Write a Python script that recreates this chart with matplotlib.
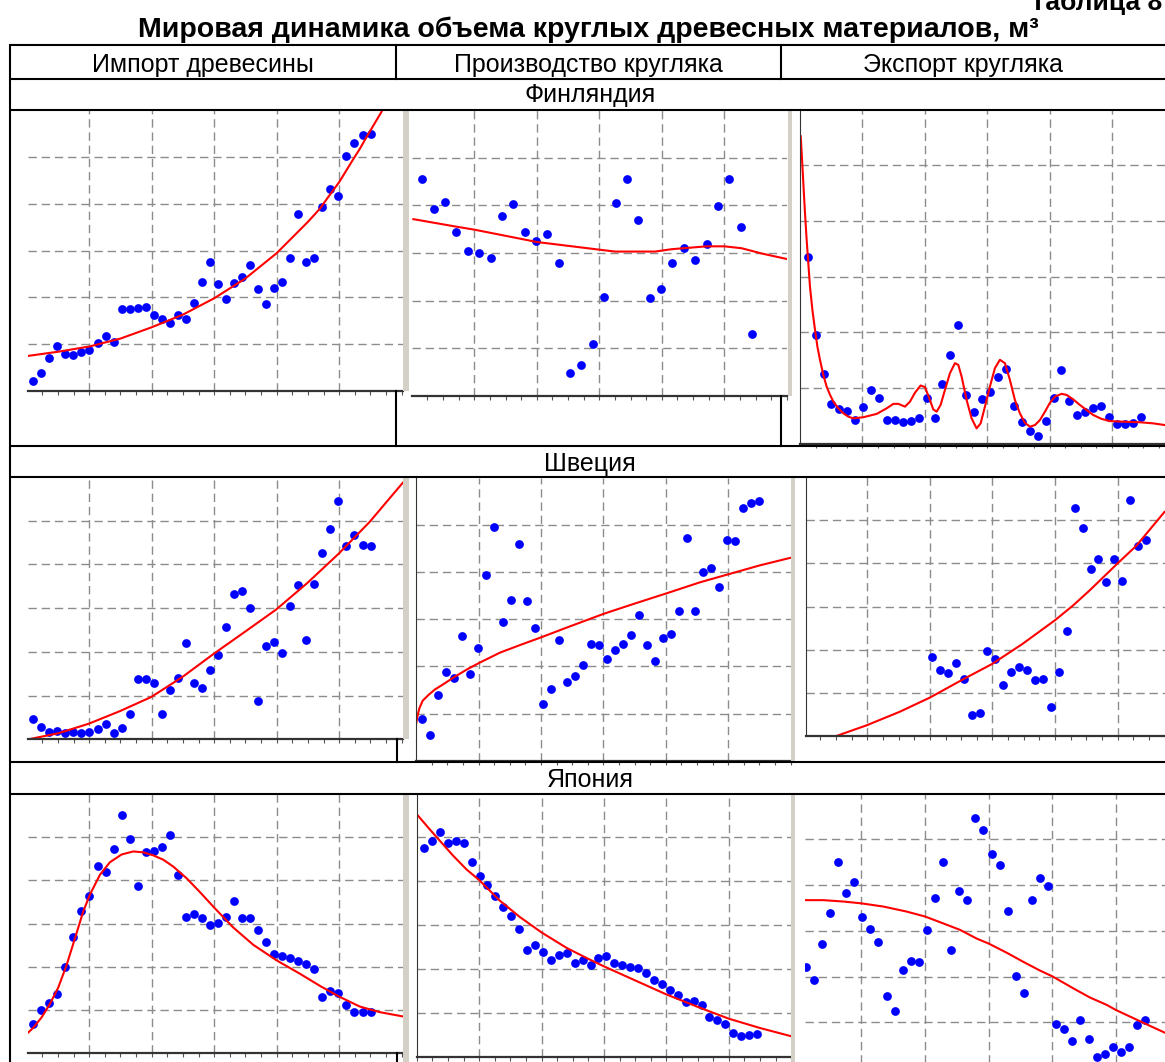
import numpy as np
import matplotlib.pyplot as plt
from matplotlib.patches import Rectangle

plt.rcParams['font.family'] = ['Liberation Sans', 'DejaVu Sans']

# ---- data (values in grid units) ----
years = np.arange(1961, 2004)          # 43 yearly points
years_b = np.arange(1974, 2004)        # 30 points, Finland production
years_f = np.arange(1976, 2004)        # 28 points, Sweden export

fin_import = [0.21, 0.38, 0.70, 0.96, 0.79, 0.77, 0.84, 0.87, 1.02, 1.18,
              1.05, 1.76, 1.76, 1.77, 1.80, 1.62, 1.53, 1.46, 1.62, 1.54,
              1.88, 2.32, 2.76, 2.28, 1.97, 2.30, 2.44, 2.70, 2.17, 1.86,
              2.20, 2.32, 2.84, 3.77, 2.76, 2.84, 3.92, 4.31, 4.16, 5.01,
              5.29, 5.47, 5.49]
fin_import_tx = [1960.38, 1964.15, 1967.97, 1971.87, 1975.73, 1979.63, 1983.53,
                 1987.39, 1991.29, 1995.19, 1996.68, 1997.72, 1999.09, 2000.63,
                 2001.66, 2002.49, 2004.36, 2004.98]
fin_import_ty = [0.75, 0.84, 0.95, 1.12, 1.36, 1.63, 1.98, 2.40, 2.94, 3.61,
                 3.89, 4.14, 4.46, 4.89, 5.17, 5.42, 5.96, 6.20]

fin_prod = [4.55, 3.93, 4.07, 3.44, 3.04, 2.99, 2.90, 3.77, 4.03, 3.45,
            3.26, 3.40, 2.80, 0.48, 0.64, 1.09, 2.08, 4.05, 4.55, 3.70,
            2.05, 2.24, 2.80, 3.11, 2.85, 3.18, 3.98, 4.55, 3.54, 1.30]
fin_prod_tx = [1973.21, 1977.05, 1978.57, 1984.09, 1989.57, 1990.95, 1994.47,
               1995.94, 1999.01, 2000.57, 2002.09, 2003.85, 2006.14]
fin_prod_ty = [3.71, 3.55, 3.49, 3.23, 3.07, 3.03, 3.03, 3.08, 3.14, 3.14,
               3.10, 2.99, 2.87]

fin_export = [3.36, 1.96, 1.25, 0.71, 0.62, 0.60, 0.43, 0.67, 0.97, 0.83,
              0.43, 0.43, 0.40, 0.42, 0.47, 0.83, 0.46, 1.07, 1.60, 2.14,
              0.88, 0.57, 0.81, 0.93, 1.21, 1.34, 0.69, 0.40, 0.23, 0.14,
              0.41, 0.83, 1.33, 0.77, 0.52, 0.57, 0.64, 0.69, 0.48, 0.36,
              0.36, 0.38, 0.48]
fin_export_tx = [1960.12, 1960.29, 1960.45, 1960.66, 1960.87, 1961.08, 1961.29,
                 1961.59, 1961.92, 1962.22, 1962.55, 1962.97, 1963.39, 1963.82,
                 1964.24, 1964.87, 1965.50, 1966.13, 1966.76, 1968.02, 1969.70,
                 1970.96, 1971.80, 1972.43, 1973.27, 1973.90, 1974.53, 1975.24,
                 1975.79, 1976.34, 1976.84, 1977.26, 1977.76, 1978.31, 1978.94,
                 1979.57, 1979.99, 1980.41, 1981.04, 1981.67, 1982.30, 1982.81,
                 1983.35, 1983.98, 1984.61, 1985.24, 1985.87, 1986.50, 1987.13,
                 1987.76, 1988.39, 1989.03, 1989.66, 1990.29, 1990.92, 1991.55,
                 1992.18, 1993.02, 1993.65, 1994.49, 1995.33, 1996.17, 1997.01,
                 1998.06, 1999.11, 2000.79, 2002.89, 2004.57, 2006.04]
fin_export_ty = [5.52, 5.10, 4.68, 4.14, 3.66, 3.24, 2.82, 2.41, 2.05, 1.75,
                 1.51, 1.24, 1.03, 0.88, 0.76, 0.64, 0.55, 0.49, 0.46, 0.48,
                 0.54, 0.64, 0.72, 0.72, 0.67, 0.76, 0.92, 1.05, 1.02, 0.82,
                 0.62, 0.58, 0.70, 0.97, 1.27, 1.45, 1.42, 1.21, 0.79, 0.46,
                 0.28, 0.37, 0.67, 1.03, 1.36, 1.51, 1.45, 1.15, 0.79, 0.55,
                 0.38, 0.31, 0.34, 0.43, 0.58, 0.74, 0.85, 0.90, 0.88, 0.80,
                 0.70, 0.61, 0.52, 0.45, 0.41, 0.40, 0.39, 0.37, 0.34]

swe_import = [0.47, 0.28, 0.16, 0.19, 0.14, 0.18, 0.14, 0.18, 0.24, 0.35,
              0.14, 0.27, 0.57, 1.37, 1.37, 1.29, 0.59, 1.14, 1.41, 2.21,
              1.30, 1.17, 1.59, 1.94, 2.56, 3.33, 3.39, 3.01, 0.87, 2.14,
              2.23, 1.98, 3.04, 3.52, 2.28, 3.55, 4.27, 4.80, 5.46, 4.42,
              4.67, 4.45, 4.43]
swe_import_tx = [1960.34, 1964.11, 1967.93, 1971.83, 1975.69, 1979.59, 1983.49,
                 1987.35, 1991.25, 1995.15, 1999.05, 2002.87, 2007.02]
swe_import_ty = [0.00, 0.14, 0.36, 0.65, 0.97, 1.43, 1.96, 2.46, 2.97, 3.58,
                 4.25, 4.97, 5.87]

swe_prod = [0.89, 0.55, 1.40, 1.87, 1.76, 2.64, 1.83, 2.39, 3.94, 4.95,
            2.94, 3.41, 4.59, 3.39, 2.82, 1.21, 1.52, 2.55, 1.67, 1.80,
            2.03, 2.48, 2.46, 2.15, 2.34, 2.48, 2.67, 3.08, 2.46, 2.12,
            2.59, 2.69, 3.18, 4.72, 3.18, 3.99, 4.09, 3.69, 4.67, 4.65,
            5.36, 5.46, 5.51]
swe_prod_tx = [1960.21, 1960.38, 1960.63, 1961.04, 1961.75, 1962.58, 1963.62,
               1964.87, 1966.53, 1968.07, 1970.69, 1973.18, 1975.76, 1979.00,
               1983.58, 1987.32, 1991.35, 1995.64, 1999.17, 2003.12, 2006.95]
swe_prod_ty = [0.76, 0.93, 1.11, 1.27, 1.39, 1.51, 1.62, 1.76, 1.93, 2.07,
               2.29, 2.45, 2.61, 2.82, 3.11, 3.32, 3.54, 3.78, 3.95, 4.14, 4.30]

swe_export = [1.82, 1.54, 1.47, 1.68, 1.33, 0.49, 0.54, 1.96, 1.79, 1.19,
              1.48, 1.60, 1.54, 1.30, 1.33, 0.68, 1.48, 2.43, 5.29, 4.83,
              3.87, 4.09, 3.57, 4.10, 3.58, 5.47, 4.41, 4.53]
swe_export_tx = [1963.94, 1967.80, 1971.92, 1975.74, 1979.90, 1983.60, 1987.47,
                 1991.50, 1993.77, 1995.87, 1999.36, 2001.79, 2005.32]
swe_export_ty = [0.00, 0.25, 0.56, 0.89, 1.31, 1.67, 2.14, 2.68, 3.02, 3.37,
                 3.99, 4.41, 5.19]

jap_import = [0.67, 1.00, 1.16, 1.37, 1.99, 2.70, 3.30, 3.64, 4.34, 4.19,
              4.72, 5.52, 4.95, 3.87, 4.65, 4.69, 4.77, 5.05, 4.13, 3.16,
              3.22, 3.14, 2.96, 3.02, 3.16, 3.53, 3.13, 3.13, 2.85, 2.58,
              2.30, 2.26, 2.20, 2.13, 2.06, 1.94, 1.29, 1.45, 1.39, 1.12,
              0.95, 0.95, 0.95]
jap_import_tx = [1960.38, 1961.00, 1962.04, 1963.07, 1964.11, 1965.15, 1966.19,
                 1967.22, 1968.05, 1969.30, 1970.54, 1972.00, 1973.45, 1974.69,
                 1975.94, 1977.18, 1978.43, 1980.09, 1981.75, 1983.53, 1985.90,
                 1988.39, 1991.29, 1994.20, 1996.68, 1999.09, 2001.66, 2004.15,
                 2007.06]
jap_import_ty = [0.48, 0.59, 0.83, 1.14, 1.52, 2.04, 2.66, 3.28, 3.67, 4.13,
                 4.42, 4.60, 4.67, 4.65, 4.58, 4.48, 4.32, 4.05, 3.73, 3.37,
                 2.91, 2.51, 2.15, 1.84, 1.56, 1.31, 1.08, 0.95, 0.85]

jap_prod = [4.74, 4.91, 5.12, 4.87, 4.92, 4.87, 4.43, 4.11, 3.92, 3.65,
            3.42, 3.21, 2.92, 2.43, 2.54, 2.39, 2.20, 2.32, 2.37, 2.14,
            2.20, 2.08, 2.24, 2.29, 2.14, 2.08, 2.04, 2.02, 1.90, 1.76,
            1.66, 1.52, 1.41, 1.25, 1.28, 1.18, 0.91, 0.85, 0.75, 0.54,
            0.48, 0.49, 0.53]
jap_prod_tx = [1960.08, 1961.55, 1963.02, 1964.70, 1966.38, 1967.97, 1970.58,
               1973.10, 1975.83, 1978.98, 1981.50, 1983.69, 1987.39, 1991.59,
               1995.79, 1999.45, 2003.35, 2007.34]
jap_prod_ty = [5.52, 5.21, 4.91, 4.57, 4.26, 4.02, 3.55, 3.18, 2.83, 2.48,
               2.25, 2.06, 1.76, 1.42, 1.12, 0.87, 0.66, 0.47]

jap_export = [2.21, 1.92, 2.72, 3.39, 4.50, 3.83, 4.07, 3.30, 3.04, 2.76,
              1.57, 1.25, 2.15, 2.34, 2.32, 3.02, 3.72, 4.50, 2.57, 3.88,
              3.67, 5.47, 5.21, 4.68, 4.44, 3.44, 2.01, 1.65, 3.67, 4.16,
              3.99, 0.96, 0.85, 0.59, 1.06, 0.63, 0.25, 0.31, 0.45, 0.36,
              0.45, 0.93, 1.06]
jap_export_tx = [1960.92, 1963.19, 1965.66, 1967.89, 1970.61, 1973.50, 1975.81,
                 1978.04, 1980.10, 1982.16, 1983.65, 1985.88, 1987.94, 1990.00,
                 1991.57, 1994.13, 1996.19, 1998.25, 1999.37, 2001.55, 2003.62,
                 2005.47]
jap_export_ty = [3.67, 3.67, 3.64, 3.60, 3.53, 3.42, 3.31, 3.16, 3.02, 2.83,
                 2.72, 2.52, 2.32, 2.13, 2.00, 1.74, 1.54, 1.38, 1.27, 1.09,
                 0.92, 0.77]

W, H = 1165, 1062
fig = plt.figure(figsize=(W / 100, H / 100), dpi=100)


def panel(box, xlim, g0, gstep, xs, ys, tx, ty, left_spine):
    l, t, r, b = box
    ax = fig.add_axes([l / W, 1 - b / H, (r - l) / W, (b - t) / H])
    ax.set_xlim(xlim)
    ax.set_ylim(0, 6)
    ax.set_xticks(g0 + gstep * np.arange(5))
    minor = np.arange(g0 - 2 * gstep, xlim[1], gstep / 4)
    ax.set_xticks(minor[(minor > xlim[0]) & (minor < xlim[1])], minor=True)
    ax.set_yticks([1, 2, 3, 4, 5])
    ax.grid(True, which='major', color='#8c8c8c', lw=1, ls=(0, (6, 3.5)))
    ax.set_axisbelow(True)
    ax.tick_params(axis='x', which='both', direction='out', length=3,
                   width=0.8, color='#555555', labelbottom=False)
    ax.tick_params(axis='y', length=0, labelleft=False)
    ax.spines['top'].set_visible(False)
    ax.spines['right'].set_visible(False)
    ax.spines['left'].set_visible(left_spine)
    ax.spines['left'].set_color('#333333')
    ax.spines['bottom'].set_color('#333333')
    ax.spines['bottom'].set_linewidth(1.6)
    ax.plot(xs, ys, 'o', color='#0000ff', ms=6.3, mec='none')
    ax.plot(tx, ty, color='#ff0000', lw=1.5)
    return ax


# Finland
panel((28.3, 110, 403, 391), (1960.38, 2007.04), 1967.97, 7.78,
      years, fin_import, fin_import_tx, fin_import_ty, False)
panel((412, 110, 787, 396), (1973.09, 2006.08), 1978.57, 5.50,
      years_b, fin_prod, fin_prod_tx, fin_prod_ty, False)
panel((800, 109.5, 1175, 444), (1960.03, 2007.32), 1967.89, 7.87,
      years, fin_export, fin_export_tx, fin_export_ty, True)
# Sweden
panel((28.3, 477, 403, 739.4), (1960.38, 2007.04), 1967.97, 7.78,
      years, swe_import, swe_import_tx, swe_import_ty, False)
panel((416.3, 477.5, 790.7, 760.7), (1960.25, 2006.94), 1968.03, 7.78,
      years, swe_prod, swe_prod_tx, swe_prod_ty, True)
panel((805.7, 477, 1175, 736), (1960.08, 2006.65), 1967.85, 7.89,
      years_f, swe_export, swe_export_tx, swe_export_ty, True)
# Japan
panel((28.3, 794, 403, 1053.2), (1960.38, 2007.04), 1967.97, 7.78,
      years, jap_import, jap_import_tx, jap_import_ty, False)
panel((416.7, 793, 791.7, 1057), (1960.08, 2007.37), 1967.97, 7.87,
      years, jap_prod, jap_prod_tx, jap_prod_ty, True)
panel((805, 793.6, 1175, 1068), (1960.91, 2006.70), 1967.88, 7.87,
      years, jap_export, jap_export_tx, jap_export_ty, False)

# ---- table frame, labels (pixel coordinates) ----
ov = fig.add_axes([0, 0, 1, 1], zorder=10)
ov.set_xlim(0, W)
ov.set_ylim(H, 0)
ov.axis('off')

gray = '#d4d0c8'
for x0, y0, x1, y1 in [(403, 110, 409, 391), (788, 110, 792, 396),
                       (403, 477, 409, 739), (791, 477, 795, 762),
                       (403, 794, 409, 1062), (791, 794, 795, 1062)]:
    ov.add_patch(Rectangle((x0, y0), x1 - x0, y1 - y0, color=gray, lw=0))

lw = 1.5
for y in [45, 79, 110, 446, 477, 762, 794]:
    ov.plot([10, W], [y, y], color='black', lw=lw, solid_capstyle='butt')
ov.plot([10, 10], [45, H], color='black', lw=lw)
for x, y0, y1 in [(396, 45, 79), (781, 45, 79), (396, 391, 446),
                  (781, 396, 446), (397, 739, 762), (397, 1053, H)]:
    ov.plot([x, x], [y0, y1], color='black', lw=lw)

ov.text(1162, 10, 'Таблица 8', ha='right', va='baseline', fontsize=19,
        fontweight='bold')
ov.text(588, 37, 'Мировая динамика объема круглых древесных материалов, м³',
        ha='center', va='baseline', fontsize=20.5, fontweight='bold')
ov.text(203, 72, 'Импорт древесины', ha='center', va='baseline', fontsize=18)
ov.text(588, 72, 'Производство кругляка', ha='center', va='baseline', fontsize=18)
ov.text(963, 72, 'Экспорт кругляка', ha='center', va='baseline', fontsize=18)
ov.text(590, 102, 'Финляндия', ha='center', va='baseline', fontsize=18)
ov.text(590, 471, 'Швеция', ha='center', va='baseline', fontsize=18)
ov.text(590, 787, 'Япония', ha='center', va='baseline', fontsize=18)

fig.savefig('out.png', dpi=100)
